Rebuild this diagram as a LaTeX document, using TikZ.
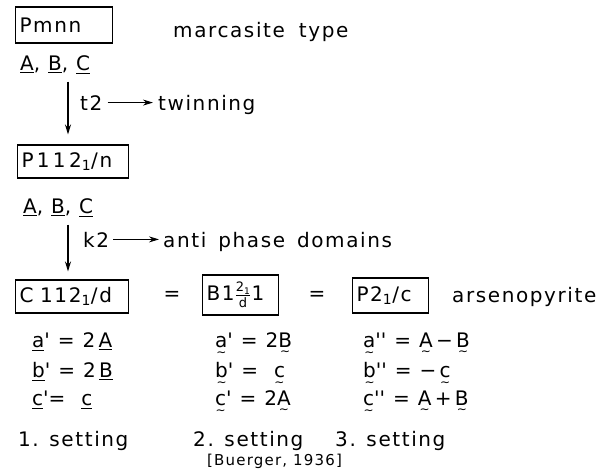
\documentclass[tikz,border=0pt]{standalone}
\usepackage{fontspec}
\setmainfont{DejaVu Sans}[LetterSpace=8]
\usepackage{amsmath}
\usetikzlibrary{arrows.meta}
\newcommand{\uv}[1]{\ensuremath{\underline{\hbox{#1}}}}
\newcommand{\tv}[1]{\setbox0\hbox{#1}\vtop{\copy0\nointerlineskip\kern4pt
  \hbox to\wd0{\hss\fontsize{12}{12}\selectfont ∼\hss}}}
\newcommand{\pr}{\textquotesingle}

\begin{document}
\begin{tikzpicture}[x=1pt,y=-1pt,font=\fontsize{20}{24}\selectfont,
  grp/.style={draw,line width=1.1pt,anchor=west,inner xsep=4pt,align=left},
  txt/.style={anchor=base west,inner sep=0pt},
  arr/.style={line width=1.1pt,-{Stealth[length=10pt,width=6pt]}}]
\useasboundingbox (0,0) rectangle (603,472);
% orthorhombic parent
\node[grp,text width=89pt,minimum height=36pt] (pmnn) at (15,25) {Pmnn};
\node[txt] (marc) at (173,37) {marcasite\hspace{14pt}type};
\node[txt] (abc1) at (20,70) {\uv{A}, \uv{B}, \uv{C}};
% first step
\node[grp,text width=103pt,minimum height=33pt] (p112) at (17,161.5) {P\,1\,1\,2\textsubscript{1}/n};
\coordinate (t2s) at ([xshift=51pt]p112.north west);
\draw[arr,shorten <=7pt,shorten >=10pt] (t2s |- abc1.south) -- (t2s);
\node[txt] (t2) at (80,110) {t2};
\node[txt] (twin) at (158,110) {twinning};
\draw[arr,line width=0.9pt,shorten <=5pt,shorten >=5pt] (t2.east) -- (twin.west |- t2.east);
\node[txt] (abc2) at (23,213) {\uv{A}, \uv{B}, \uv{C}};
% second step
\node[grp,text width=105pt,minimum height=33pt] (c112) at (15,296.5) {C 112\textsubscript{1}/d};
\coordinate (k2s) at ([xshift=53pt]c112.north west);
\draw[arr,shorten <=7pt,shorten >=8pt] (k2s |- abc2.south) -- (k2s);
\node[txt] (k2) at (83,247) {k2};
\node[txt] (apd) at (163,247) {anti\hspace{12pt}phase\hspace{12pt}domains};
\draw[arr,line width=0.9pt,shorten <=4pt,shorten >=4pt] (k2.east) -- (apd.west |- k2.east);
% monoclinic settings
\node (eq1) at (172,296) {=};
\node[grp,text width=68pt,minimum height=40pt] (b1d1) at (202,295) {B1$\frac{\hbox{\fontsize{13}{13}\selectfont 2\textsubscript{1}}}{\hbox{\fontsize{13}{13}\selectfont d}}$1};
\node (eq2) at (317,296) {=};
\node[grp,text width=68pt,minimum height=35pt] (p21c) at (352,295.5) {P2\textsubscript{1}/c};
\node[txt] (arsen) at (452,302) {arsenopyrite};
% 1. setting
\node[txt] (s1a) at (32,347) {\uv{a}\pr{} = 2\,\uv{A}};
\node[txt] (s1b) at (32,377) {\uv{b}\pr{} = 2\,\uv{B}};
\node[txt] (s1c) at (32,405) {\uv{c}\pr{}=\ \ \uv{c}};
\node[txt] (set1) at (18,446) {1. setting};
% 2. setting
\node[txt] (s2a) at (215,347) {\tv{a}\pr{} = 2\tv{B}};
\node[txt] (s2b) at (215,377) {\tv{b}\pr{} =\ \ \tv{c}};
\node[txt] (s2c) at (215,405) {\tv{c}\pr{} = 2\tv{A}};
\node[txt] (set2) at (193,446) {2. setting};
\node[txt,font=\fontsize{15}{18}\selectfont] (buer) at (207,465) {[Buerger, 1936]};
% 3. setting
\node[txt] (s3a) at (363,347) {\tv{a}\pr\pr{} = \tv{A}\,−\,\tv{B}};
\node[txt] (s3b) at (363,377) {\tv{b}\pr\pr{} = −\,\tv{c}};
\node[txt] (s3c) at (363,405) {\tv{c}\pr\pr{} = \tv{A}\,+\,\tv{B}};
\node[txt] (set3) at (335,446) {3. setting};
\end{tikzpicture}
\end{document}
